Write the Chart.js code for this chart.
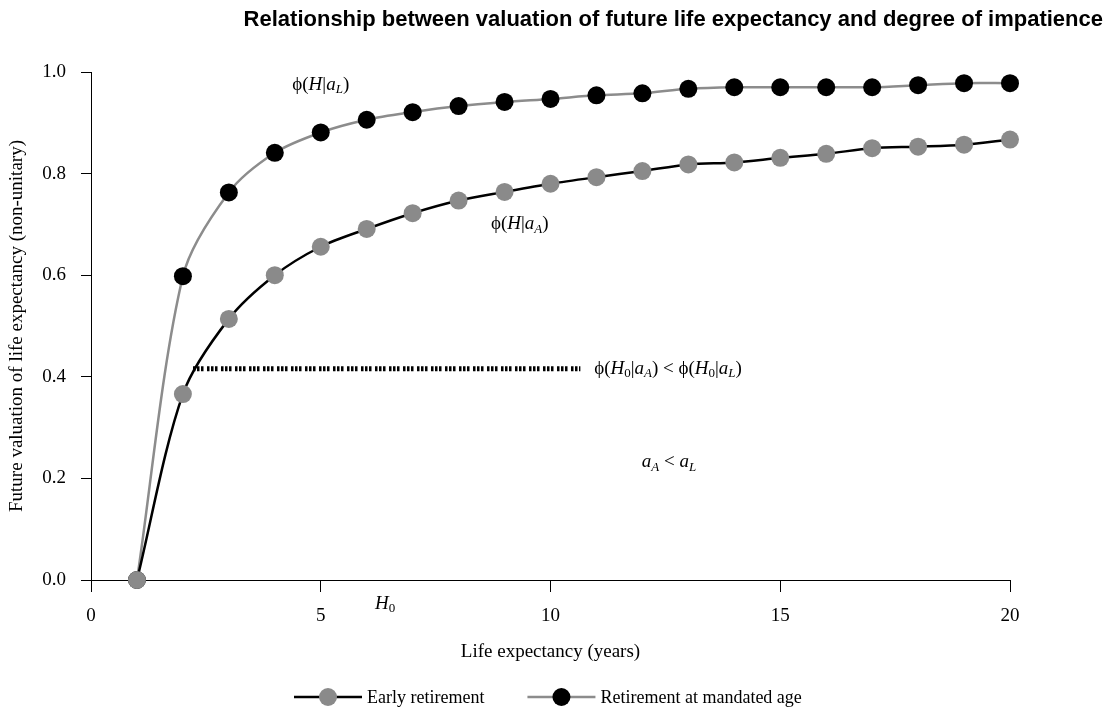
<!DOCTYPE html>
<html>
<head>
<meta charset="utf-8">
<script src="https://cdn.jsdelivr.net/npm/chart.js@4.4.0/dist/chart.umd.min.js"></script>
<style>
  html, body { margin: 0; padding: 0; background: #fff; }
</style>
</head>
<body>
<canvas id="chart" width="1113" height="716"></canvas>
<script>
// data
const years = [1, 2, 3, 4, 5, 6, 7, 8, 9, 10, 11, 12, 13, 14, 15, 16, 17, 18, 19, 20];
const earlyRetirement = [0.000, 0.366, 0.514, 0.600, 0.656, 0.691, 0.722, 0.747, 0.764, 0.780,
                         0.793, 0.805, 0.818, 0.822, 0.831, 0.839, 0.850, 0.853, 0.857, 0.867];
const mandatedAge = [0.000, 0.598, 0.763, 0.841, 0.881, 0.906, 0.921, 0.933, 0.941, 0.947,
                     0.954, 0.958, 0.967, 0.970, 0.970, 0.970, 0.970, 0.974, 0.978, 0.978];
const h0LineX = [2.22, 10.65];
const h0LineY = [0.416, 0.416];
const xTicks = [0, 5, 10, 15, 20];
const yTicks = [0, 0.2, 0.4, 0.6, 0.8, 1.0];
const seriesNames = ['Early retirement', 'Retirement at mandated age'];

const SERIF = '"Liberation Serif", "DejaVu Serif", serif';
const TITLE = 'Relationship between valuation of future life expectancy and degree of impatience';

// text labels inside the plot: [text, style]  style: '' | 'i' | 'sub' | 'isub'
const notes = [
    { x: 5.0, y: 0.975, align: 'center', parts: [['ϕ(', ''], ['H', 'i'], ['|', ''], ['a', 'i'], ['L', 'isub'], [')', '']] },
    { x: 9.33, y: 0.70, align: 'center', parts: [['ϕ(', ''], ['H', 'i'], ['|', ''], ['a', 'i'], ['A', 'isub'], [')', '']] },
    { x: 10.95, y: 0.416, align: 'left', parts: [['ϕ(', ''], ['H', 'i'], ['0', 'sub'], ['|', ''], ['a', 'i'], ['A', 'isub'], [') < ϕ(', ''],
                                                 ['H', 'i'], ['0', 'sub'], ['|', ''], ['a', 'i'], ['L', 'isub'], [')', '']] },
    { x: 12.58, y: 0.232, align: 'center', parts: [['a', 'i'], ['A', 'isub'], [' < ', ''], ['a', 'i'], ['L', 'isub']] }
];

function fontFor(style) {
    const it = style.indexOf('i') === 0 ? 'italic ' : '';
    const size = style.indexOf('sub') >= 0 ? 13 : 19;
    return it + size + 'px ' + SERIF;
}

function drawRich(ctx, parts, x, y, align) {
    let w = 0;
    parts.forEach(p => { ctx.font = fontFor(p[1]); w += ctx.measureText(p[0]).width; });
    let cx = align === 'center' ? x - w / 2 : x;
    ctx.textAlign = 'left';
    ctx.textBaseline = 'middle';
    parts.forEach(p => {
        ctx.font = fontFor(p[1]);
        ctx.fillText(p[0], cx, y + (p[1].indexOf('sub') >= 0 ? 5 : 0));
        cx += ctx.measureText(p[0]).width;
    });
}

const decorations = {
    id: 'decorations',
    afterDraw(chart) {
        const ctx = chart.ctx;
        const xs = chart.scales.x, ys = chart.scales.y;
        ctx.save();
        ctx.fillStyle = '#000';

        // title, right aligned
        ctx.font = 'bold 22px "Liberation Sans", Arial, sans-serif';
        ctx.textAlign = 'right';
        ctx.textBaseline = 'middle';
        ctx.fillText(TITLE, 1103, 20);

        notes.forEach(n => drawRich(ctx, n.parts, xs.getPixelForValue(n.x), ys.getPixelForValue(n.y), n.align));
        // H0 under the axis
        drawRich(ctx, [['H', 'i'], ['0', 'sub']], xs.getPixelForValue(6.4), chart.chartArea.bottom + 24, 'center');

        // legend: line + marker + text
        let lx = 294;
        const ly = 697;
        chart.data.datasets.slice(0, 2).forEach((ds, i) => {
            ctx.strokeStyle = ds.borderColor;
            ctx.lineWidth = ds.borderWidth;
            ctx.beginPath();
            ctx.moveTo(lx, ly);
            ctx.lineTo(lx + 68, ly);
            ctx.stroke();
            ctx.fillStyle = ds.pointBackgroundColor;
            ctx.beginPath();
            ctx.arc(lx + 34, ly, ds.pointRadius, 0, Math.PI * 2);
            ctx.fill();
            ctx.fillStyle = '#000';
            ctx.font = '18px ' + SERIF;
            ctx.textAlign = 'left';
            ctx.textBaseline = 'middle';
            ctx.fillText(seriesNames[i], lx + 73, ly + 1);
            lx += 73 + ctx.measureText(seriesNames[i]).width + 43;
        });
        ctx.restore();
    }
};

const axisGrid = { drawOnChartArea: false, drawTicks: true, color: '#000', lineWidth: 1 };

new Chart(document.getElementById('chart'), {
    type: 'line',
    data: {
        datasets: [{
            label: seriesNames[0],
            data: years.map((x, i) => ({ x: x, y: earlyRetirement[i] })),
            borderColor: '#000',
            borderWidth: 2.5,
            pointBackgroundColor: '#8a8a8a',
            pointBorderWidth: 0,
            pointRadius: 9,
            tension: 0.3,
            clip: false
        }, {
            label: seriesNames[1],
            data: years.map((x, i) => ({ x: x, y: mandatedAge[i] })),
            borderColor: '#8c8c8c',
            borderWidth: 2.5,
            pointBackgroundColor: '#000',
            pointBorderWidth: 0,
            pointRadius: 9,
            tension: 0.3,
            clip: false
        }, {
            label: 'H0',
            data: h0LineX.map((x, i) => ({ x: x, y: h0LineY[i] })),
            borderColor: '#000',
            borderWidth: 5,
            borderDash: [2.5, 1.5, 2.5, 1.5, 2.5, 3.5],
            borderCapStyle: 'butt',
            pointRadius: 0,
            clip: false
        }]
    },
    options: {
        responsive: false,
        devicePixelRatio: 1,
        animation: false,
        events: [],
        layout: { padding: { left: 0, right: 103, top: 72, bottom: 46 } },
        plugins: {
            legend: { display: false },
            title: { display: false },
            tooltip: { enabled: false }
        },
        scales: {
            x: {
                type: 'linear',
                min: 0,
                max: 20,
                afterBuildTicks: s => { s.ticks = xTicks.map(v => ({ value: v })); },
                afterFit: s => { s.height = 90; },
                grid: Object.assign({ tickLength: 12 }, axisGrid),
                border: { color: '#000', width: 1 },
                ticks: { color: '#000', font: { family: SERIF, size: 19 }, padding: 13, maxRotation: 0 },
                title: { display: true, text: 'Life expectancy (years)', color: '#000',
                         font: { family: SERIF, size: 19 }, padding: { top: 0, bottom: 7 } }
            },
            y: {
                min: 0,
                max: 1,
                afterBuildTicks: s => { s.ticks = yTicks.map(v => ({ value: v })); },
                afterFit: s => { s.width = 91; },
                grid: Object.assign({ tickLength: 10 }, axisGrid),
                border: { color: '#000', width: 1 },
                ticks: { color: '#000', font: { family: SERIF, size: 19 }, padding: 15,
                         callback: v => v.toFixed(1) },
                title: { display: true, text: 'Future valuation of life expectancy (non-unitary)', color: '#000',
                         font: { family: SERIF, size: 19 }, padding: { top: 6, bottom: 0 } }
            }
        }
    },
    plugins: [decorations]
});
</script>
</body>
</html>
